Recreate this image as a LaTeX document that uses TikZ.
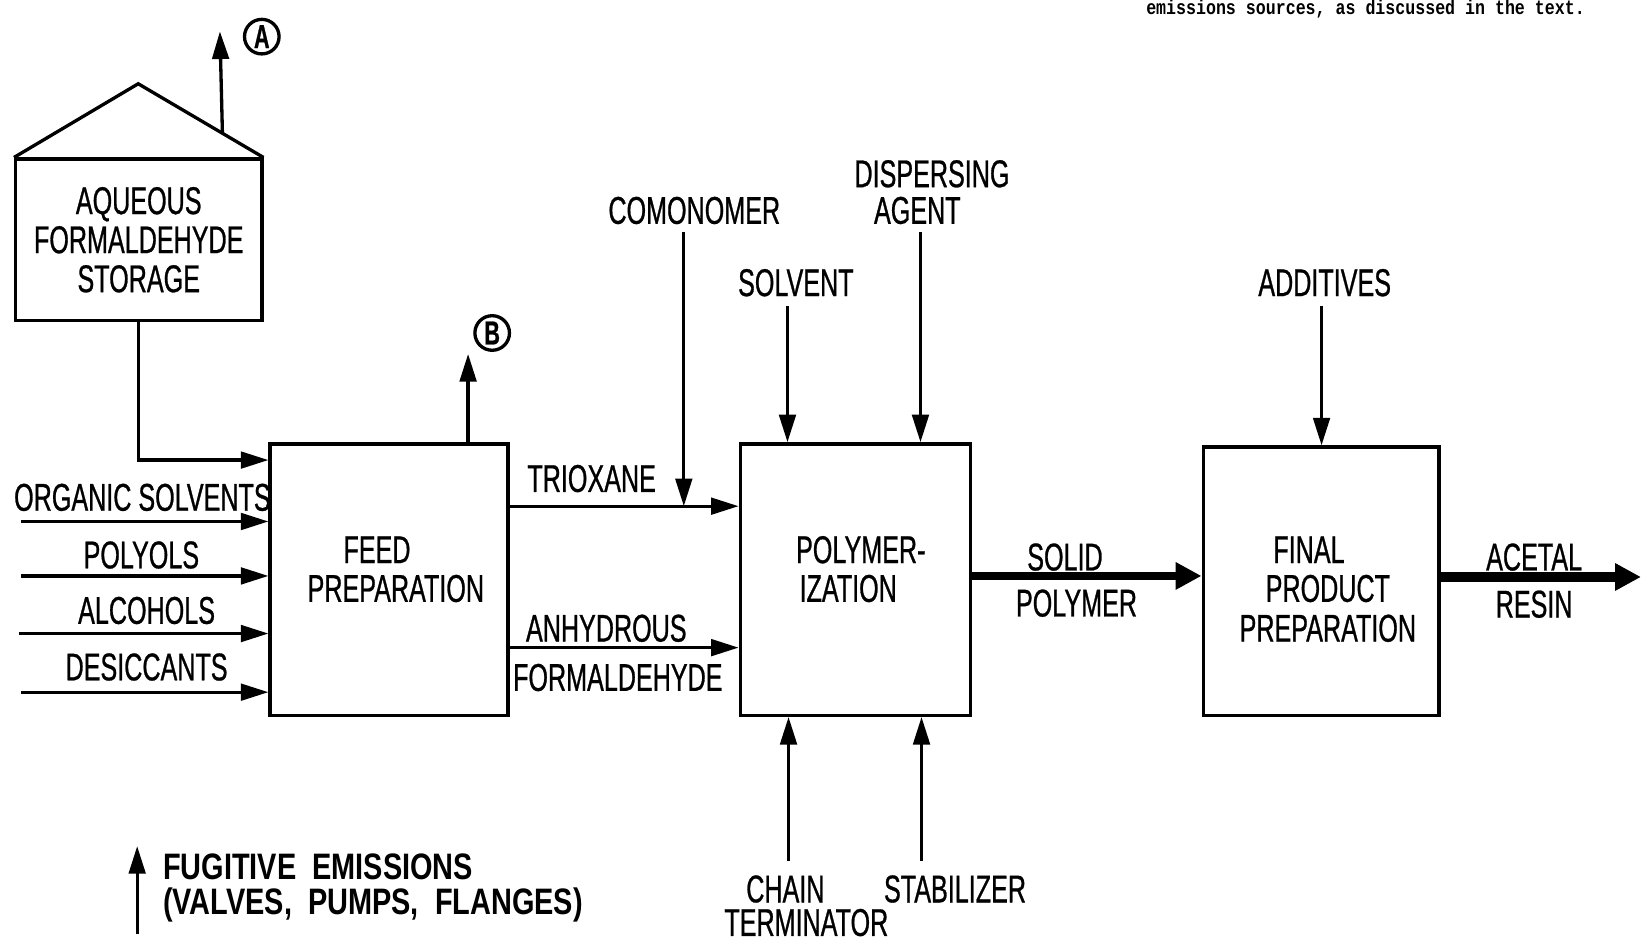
\documentclass[tikz,border=0pt]{standalone}
\usepackage{fontspec}
\setmainfont{Liberation Sans}[FakeStretch=0.65,FakeBold=0.7]
\newfontfamily\legendfont{Liberation Sans}[FakeStretch=0.785]
\newfontfamily\notefont{Liberation Mono}[FakeStretch=0.82]
\usetikzlibrary{arrows.meta,calc}
\begin{document}
\begin{tikzpicture}[x=0.01cm,y=-0.01cm,
  every node/.style={inner sep=0pt, font=\fontsize{10.5}{10.6}\selectfont},
  box/.style={draw, line width=0.9pt, rectangle},
  lbl/.style={align=center},
  pipe/.style={line width=0.9pt},
  arr/.style={line width=0.9pt, -{Triangle[length=7.5pt,width=4.5pt]}},
  thickarr/.style={line width=2.4pt, -{Triangle[length=7pt,width=7pt]}},
  tag/.style={circle, draw, line width=0.9pt, minimum size=0.33cm, font=\bfseries\fontsize{9}{9}\selectfont},
  legend/.style={anchor=west, font=\legendfont\bfseries\fontsize{10}{10}\selectfont},
]
\useasboundingbox (0,0) rectangle (1568,898);

% boxes
\node[box, minimum width=2.35cm, minimum height=1.54cm, lbl] (storage) at (132.5,229) {AQUEOUS\\FORMALDEHYDE\\STORAGE};
\node[box, minimum width=2.27cm, minimum height=2.59cm] (feed) at (371.5,553.5) {};
\node[box, minimum width=2.20cm, minimum height=2.59cm] (poly) at (817,553.5) {};
\node[box, minimum width=2.25cm, minimum height=2.56cm] (final) at (1261.5,555) {};

% roof
\coordinate (apex) at (132,80);
\draw[pipe, line join=miter] (storage.north west) -- (apex) -- (storage.north east);

% box texts
\node (feedT1) at (360,525) {FEED};
\node (feedT2) at (378,562) {PREPARATION};
\node (polyT1) at (822,525) {POLYMER-};
\node (polyT2) at (810,562) {IZATION};
\node (finT1) at (1250,525) {FINAL};
\node (finT2) at (1268,562) {PRODUCT};
\node (finT3) at (1268,600) {PREPARATION};

% emission tags
\node[tag] (cA) at (250,35) {A};
\node[tag] (cB) at (470,318) {B};
\coordinate (Aroof) at ($(apex)!0.672!(storage.north east)$);
\coordinate (Atop) at (210,30);
\draw[arr] (Aroof) -- (Atop);
\coordinate (Btop) at (447,338);
\draw[arr] (Btop |- feed.north) -- (Btop);

% storage to feed
\draw[arr] (storage.south) |- ([yshift=-0.17cm]feed.north west);

% feed inputs
\coordinate (osS) at (20,498);
\coordinate (polS) at (20,550);
\coordinate (alcS) at (18,605);
\coordinate (desS) at (20,661);
\draw[arr] (osS) -- (osS -| feed.west);
\draw[arr] (polS) -- (polS -| feed.west);
\draw[arr] (alcS) -- (alcS -| feed.west);
\draw[arr] (desS) -- (desS -| feed.west);
\node (osT) at (136,475) {ORGANIC SOLVENTS};
\node (polT) at (135,530) {POLYOLS};
\node (alcT) at (140,583) {ALCOHOLS};
\node (desT) at (140,637) {DESICCANTS};

% feed to polymerization
\coordinate (triA) at ([yshift=-0.61cm]feed.north east);
\coordinate (anhA) at ([yshift=-1.96cm]feed.north east);
\draw[arr] (triA) -- (triA -| poly.west);
\draw[arr] (anhA) -- (anhA -| poly.west);
\node (triT) at (565,457) {TRIOXANE};
\node (anhT1) at (579,600) {ANHYDROUS};
\node (anhT2) at (590,647) {FORMALDEHYDE};

% comonomer
\coordinate (comS) at (653,222);
\draw[arr] (comS) -- (comS |- triA);
\node (comT) at (663,201) {COMONOMER};

% solvent, dispersing agent
\coordinate (solvS) at (752,292);
\draw[arr] (solvS) -- (solvS |- poly.north);
\node (solvT) at (760,270) {SOLVENT};
\coordinate (dispS) at (879,222);
\draw[arr] (dispS) -- (dispS |- poly.north);
\node (dispT1) at (890,166) {DISPERSING};
\node (dispT2) at (876,201) {AGENT};

% chain terminator, stabilizer
\coordinate (chS) at (753,822);
\draw[arr] (chS) -- (chS |- poly.south);
\node (chT1) at (750,849) {CHAIN};
\node (chT2) at (770,881) {TERMINATOR};
\coordinate (stS) at (880,822);
\draw[arr] (stS) -- (stS |- poly.south);
\node (stT) at (912,849) {STABILIZER};

% solid polymer
\coordinate (spS) at (927,550);
\draw[thickarr] (spS) -- (spS -| final.west);
\node (spT1) at (1017,532) {SOLID};
\node (spT2) at (1028,576) {POLYMER};

% additives
\coordinate (addS) at (1262,292);
\draw[arr] (addS) -- (addS |- final.north);
\node (addT) at (1265,270) {ADDITIVES};

% acetal resin
\coordinate (acE) at (1567,551);
\draw[thickarr, line width=2.7pt] (acE -| final.east) -- (acE);
\node (acT1) at (1465,532) {ACETAL};
\node (acT2) at (1465,577) {RESIN};

% legend
\coordinate (lgB) at (131,892);
\coordinate (lgT) at (131,808);
\draw[arr] (lgB) -- (lgT);
\node[legend] (leg1) at (155,828) {FUGITIVE\ \ EMISSIONS};
\node[legend] (leg2) at (155,864) {(VALVES,\ \ PUMPS,\ \ FLANGES)};

% note at top right
\node[anchor=base, font=\notefont\bfseries\fontsize{5.5}{6}\selectfont] (note) at (1304,14) {emissions sources, as discussed in the text.};
\end{tikzpicture}
\end{document}
